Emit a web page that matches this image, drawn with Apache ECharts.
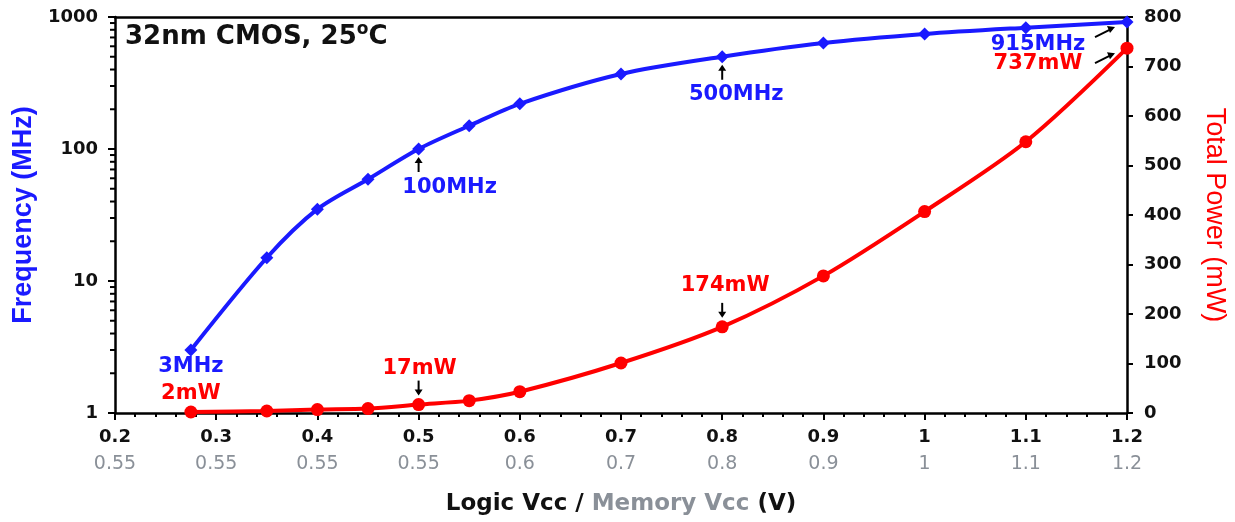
<!DOCTYPE html>
<html>
<head>
<meta charset="utf-8">
<script src="https://cdn.jsdelivr.net/npm/echarts@6/dist/echarts.min.js"></script>
<style>html,body{margin:0;padding:0;background:#fff;}#c{width:1235px;height:522px;}</style>
</head>
<body>
<div id="c"></div>
<script>
// ---- data ----
const vcc = [0.275, 0.35, 0.4, 0.45, 0.5, 0.55, 0.6, 0.7, 0.8, 0.9, 1.0, 1.1, 1.2];
const freqMHz = [3, 15, 35, 59, 100, 150, 220, 370, 500, 635, 743, 830, 915];
const powerMW = [2, 4, 7, 9, 17, 25, 43, 101, 174, 277, 407, 548, 737];
const logicLabels = ['0.2','0.3','0.4','0.5','0.6','0.7','0.8','0.9','1','1.1','1.2'];
const memoryLabels = ['0.55','0.55','0.55','0.55','0.6','0.7','0.8','0.9','1','1.1','1.2'];
const logMinorTicks = [2,3,4,5,6,7,8,9,20,30,40,50,60,70,80,90,200,300,400,500,600,700,800,900];
const annotations = [
  {text:'3MHz',  series:0, x:0.275, y:3,   color:'#1a1aff', dx:0,   dy:17, arrow:null},
  {text:'2mW',   series:1, x:0.275, y:2,   color:'#ff0000', dx:0,   dy:-18, arrow:null},
  {text:'100MHz',series:0, x:0.5,   y:100, color:'#1a1aff', dx:31,  dy:39, arrow:'up'},
  {text:'500MHz',series:0, x:0.8,   y:500, color:'#1a1aff', dx:14,  dy:38, arrow:'up'},
  {text:'17mW',  series:1, x:0.5,   y:17,  color:'#ff0000', dx:1,   dy:-36, arrow:'down'},
  {text:'174mW', series:1, x:0.8,   y:174, color:'#ff0000', dx:3,   dy:-41, arrow:'down'},
  {text:'915MHz',series:0, x:1.2,   y:915, color:'#1a1aff', dx:-89, dy:22, arrow:'diag'},
  {text:'737mW', series:1, x:1.2,   y:737, color:'#ff0000', dx:-89, dy:15, arrow:'diag'}
];

const BLUE = '#1a1aff', RED = '#ff0000', GRAY = '#8a9098';
const WIDE = 'DejaVu Sans, Verdana, sans-serif';
const ARIAL = 'Liberation Sans, Arial, sans-serif';

const chart = echarts.init(document.getElementById('c'), null, {renderer:'canvas'});

const option = {
  animation: false,
  backgroundColor: '#fff',
  grid: {left: 115, right: 108, top: 17, bottom: 109, containLabel: false, outerBoundsMode: 'none'},
  xAxis: [{
    type: 'value', min: 0.2, max: 1.2, interval: 0.1, position: 'bottom',
    axisLine: {show: true, onZero: false, lineStyle: {color: '#000', width: 2.5}},
    axisTick: {show: true, inside: false, length: 7, lineStyle: {color: '#000', width: 2}},
    minorTick: {show: true, splitNumber: 5, length: 4, lineStyle: {color: '#000', width: 2}},
    splitLine: {show: false},
    axisLabel: {
      margin: 11,
      formatter: function (v) {
        const i = Math.round((v - 0.2) / 0.1);
        return '{a|' + logicLabels[i] + '}\n{b|' + memoryLabels[i] + '}';
      },
      rich: {
        a: {fontFamily: WIDE, fontWeight: 'bold', fontSize: 18, color: '#111', lineHeight: 27},
        b: {fontFamily: WIDE, fontSize: 19, color: GRAY, lineHeight: 27}
      }
    },
    name: '{a|Logic Vcc / }{b|Memory Vcc }{a|(V)}',
    nameLocation: 'middle', nameGap: 80,
    nameTextStyle: {
      rich: {
        a: {fontFamily: WIDE, fontWeight: 'bold', fontSize: 23, color: '#111'},
        b: {fontFamily: WIDE, fontWeight: 'bold', fontSize: 23, color: GRAY}
      }
    }
  }, {
    type: 'value', min: 0.2, max: 1.2, position: 'top',
    axisLine: {show: true, onZero: false, lineStyle: {color: '#000', width: 2.5}},
    axisTick: {show: false}, axisLabel: {show: false}, splitLine: {show: false}
  }],
  yAxis: [{
    type: 'log', logBase: 10, min: 1, max: 1000, position: 'left',
    axisLine: {show: true, onZero: false, lineStyle: {color: '#000', width: 2.5}},
    axisTick: {show: true, length: 7, lineStyle: {color: '#000', width: 2}},
    splitLine: {show: false},
    axisLabel: {fontFamily: WIDE, fontWeight: 'bold', fontSize: 18, color: '#111', margin: 17,
                formatter: function (v) { return String(Math.round(v)); }},
    name: 'Frequency (MHz)', nameLocation: 'middle', nameGap: 74, nameRotate: 90,
    nameTextStyle: {fontFamily: ARIAL, fontWeight: 'bold', fontSize: 27, color: BLUE}
  }, {
    type: 'value', min: 0, max: 800, interval: 100, position: 'right',
    axisLine: {show: true, onZero: false, lineStyle: {color: '#000', width: 2.5}},
    axisTick: {show: true, length: 6, lineStyle: {color: '#000', width: 2}},
    splitLine: {show: false},
    axisLabel: {fontFamily: WIDE, fontWeight: 'bold', fontSize: 18, color: '#111', margin: 17},
    name: 'Total Power (mW)', nameLocation: 'middle', nameGap: 74, nameRotate: -90,
    nameTextStyle: {fontFamily: ARIAL, fontSize: 27, color: RED}
  }],
  series: [{
    name: 'Frequency', type: 'line', xAxisIndex: 0, yAxisIndex: 0,
    data: vcc.map((v, i) => [v, freqMHz[i]]),
    smooth: 0.3, symbol: 'diamond', symbolSize: 13, showSymbol: true,
    itemStyle: {color: BLUE}, lineStyle: {color: BLUE, width: 4}, clip: false, z: 3
  }, {
    name: 'Power', type: 'line', xAxisIndex: 0, yAxisIndex: 1,
    data: vcc.map((v, i) => [v, powerMW[i]]),
    smooth: 0.3, symbol: 'circle', symbolSize: 13, showSymbol: true,
    itemStyle: {color: RED}, lineStyle: {color: RED, width: 4}, clip: false, z: 3
  }, {
    name: 'logMinor', type: 'custom', xAxisIndex: 0, yAxisIndex: 0, clip: false, silent: true,
    data: logMinorTicks.map(v => [0.2, v]),
    renderItem: function (params, api) {
      const p = api.coord([api.value(0), api.value(1)]);
      return {type: 'line', shape: {x1: p[0] - 5, y1: p[1], x2: p[0], y2: p[1]},
              style: {stroke: '#000', lineWidth: 2}};
    }
  }]
};
chart.setOption(option);

// annotations placed from data coordinates
const graphics = [];
graphics.push({
  type: 'text', left: 125, top: 21,
  style: {
    text: '{t|32nm CMOS, 25}{s|o}{t|C}',
    rich: {
      t: {fontFamily: WIDE, fontWeight: 'bold', fontSize: 26, fill: '#111', verticalAlign: 'bottom'},
      s: {fontFamily: WIDE, fontWeight: 'bold', fontSize: 17, fill: '#111', verticalAlign: 'top', padding: [0, 0, 12, 0]}
    }
  }
});
annotations.forEach(a => {
  const p = chart.convertToPixel({seriesIndex: a.series}, [a.x, a.y]);
  graphics.push({
    type: 'text', x: p[0] + a.dx, y: p[1] + a.dy,
    style: {text: a.text, fontFamily: WIDE, fontWeight: 'bold', fontSize: 21, fill: a.color,
            align: 'center', verticalAlign: 'middle'}
  });
  if (a.arrow === 'up') {
    graphics.push({type: 'line', shape: {x1: p[0], y1: p[1] + 23, x2: p[0], y2: p[1] + 10}, style: {stroke: '#000', lineWidth: 2}});
    graphics.push({type: 'polygon', shape: {points: [[p[0], p[1] + 8], [p[0] - 4, p[1] + 14], [p[0] + 4, p[1] + 14]]}, style: {fill: '#000'}});
  } else if (a.arrow === 'down') {
    graphics.push({type: 'line', shape: {x1: p[0], y1: p[1] - 24, x2: p[0], y2: p[1] - 11}, style: {stroke: '#000', lineWidth: 2}});
    graphics.push({type: 'polygon', shape: {points: [[p[0], p[1] - 9], [p[0] - 4, p[1] - 15], [p[0] + 4, p[1] - 15]]}, style: {fill: '#000'}});
  } else if (a.arrow === 'diag') {
    const x0 = p[0] - 32, y0 = p[1] + 15, x1 = p[0] - 12, y1 = p[1] + 5;
    graphics.push({type: 'line', shape: {x1: x0, y1: y0, x2: x1 - 3, y2: y1 + 1.5}, style: {stroke: '#000', lineWidth: 2}});
    graphics.push({type: 'polygon', shape: {points: [[x1, y1], [x1 - 8, y1 - 1], [x1 - 5, y1 + 6]]}, style: {fill: '#000'}});
  }
});
chart.setOption({graphic: graphics});
</script>
</body>
</html>
